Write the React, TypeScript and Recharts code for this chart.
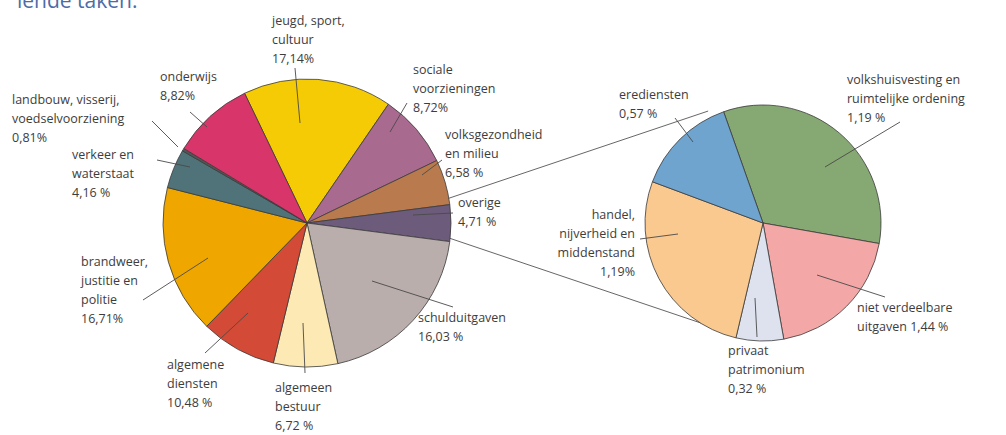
import React from 'react';
import { PieChart, Pie, Cell, Customized } from 'recharts';

// main pie, clockwise from the top (jeugd first)
const mainNames = [
  'jeugd, sport, cultuur',
  'sociale voorzieningen',
  'volksgezondheid en milieu',
  'overige',
  'schulduitgaven',
  'algemeen bestuur',
  'algemene diensten',
  'brandweer, justitie en politie',
  'verkeer en waterstaat',
  'landbouw, visserij, voedselvoorziening',
  'onderwijs',
];
// slice sizes as drawn (share of the circle, %)
const mainShare = [16.7, 8.3, 5.1, 4.1, 19.5, 7.2, 8.5, 16.7, 4.4, 0.3, 9.2];
// printed labels
const mainLabels = [
  ['jeugd, sport,', 'cultuur', '17,14%'],
  ['sociale', 'voorzieningen', '8,72%'],
  ['volksgezondheid', 'en milieu', '6,58 %'],
  ['overige', '4,71 %'],
  ['schulduitgaven', '16,03 %'],
  ['algemeen', 'bestuur', '6,72 %'],
  ['algemene', 'diensten', '10,48 %'],
  ['brandweer,', 'justitie en', 'politie', '16,71%'],
  ['verkeer en', 'waterstaat', '4,16 %'],
  ['landbouw, visserij,', 'voedselvoorziening', '0,81%'],
  ['onderwijs', '8,82%'],
];
const mainColors = ['#f5cb05', '#a96a8f', '#b97b4d', '#6d5b7b', '#b9aeab', '#fce9b4', '#d34b36', '#efa700', '#4f7379', '#555555', '#d8366b'];

// breakdown of "overige"
const subNames = [
  'volkshuisvesting en ruimtelijke ordening',
  'niet verdeelbare uitgaven',
  'privaat patrimonium',
  'handel, nijverheid en middenstand',
  'erediensten',
];
const subShare = [33.2, 19.4, 6.5, 27.0, 13.9];
const subLabels = [
  ['volkshuisvesting en', 'ruimtelijke ordening', '1,19 %'],
  ['niet verdeelbare', 'uitgaven 1,44 %'],
  ['privaat', 'patrimonium', '0,32 %'],
  ['handel,', 'nijverheid en', 'middenstand', '1,19%'],
  ['erediensten', '0,57 %'],
];
const subColors = ['#86a872', '#f3a7a6', '#dde2ee', '#f9c98f', '#6fa4cf'];

const mainData = mainNames.map((name, i) => ({ name, value: mainShare[i] }));
const subData = subNames.map((name, i) => ({ name, value: subShare[i] }));

const MAIN = { cx: 302, cy: 218, r: 144, start: 115.7 };
const SUB = { cx: 758, cy: 218, r: 118, start: 109.5 };

// label placement, offsets from the pie centre: text origin, leader line from -> to
type Layout = { tx: number; ty: number; anchor?: 'start' | 'end'; from: [number, number]; to: [number, number] };
const mainLayout: Layout[] = [
  { tx: -30, ty: -193, from: [-7, -150], to: [-2, -95] },
  { tx: 111, ty: -144, from: [105, -115], to: [88, -86] },
  { tx: 143, ty: -79, from: [140, -58], to: [120, -43] },
  { tx: 156, ty: -11, from: [151, -5], to: [111, -3] },
  { tx: 116, ty: 104, from: [151, 89], to: [70, 63] },
  { tx: -27, ty: 174, from: [3, 155], to: [1, 105] },
  { tx: -135, ty: 151, from: [-97, 135], to: [-54, 95] },
  { tx: -221, ty: 48, from: [-159, 82], to: [-94, 40] },
  { tx: -230, ty: -59, from: [-145, -58], to: [-112, -51] },
  { tx: -290, ty: -114, from: [-150, -97], to: [-124, -71] },
  { tx: -142, ty: -137, from: [-112, -106], to: [-95, -91] },
];
const subLayout: Layout[] = [
  { tx: 89, ty: -134, from: [142, -96], to: [67, -51] },
  { tx: 99, ty: 94, from: [127, 79], to: [59, 57] },
  { tx: -30, ty: 137, from: [-1, 119], to: [-3, 80] },
  { tx: -123, ty: 1, anchor: 'end', from: [-118, 21], to: [-80, 16] },
  { tx: -139, ty: -119, from: [-83, -100], to: [-65, -76] },
];

const FONT = '"Open Sans", "Noto Sans", sans-serif';
const LINE_H = 19;

function makeLabel(center: { cx: number; cy: number }, layout: Layout[], texts: string[][]) {
  return (props: any) => {
    const i = props.index;
    const l = layout[i];
    if (!l) return null;
    const { cx, cy } = center;
    return (
      <g key={`lbl-${i}`}>
        <line
          x1={cx + l.from[0]}
          y1={cy + l.from[1]}
          x2={cx + l.to[0]}
          y2={cy + l.to[1]}
          stroke="#4a4a4a"
          strokeWidth={0.9}
        />
        <text
          x={cx + l.tx}
          y={cy + l.ty}
          textAnchor={l.anchor || 'start'}
          fontFamily={FONT}
          fontSize={12.5}
          fill="#3d3d3d"
        >
          {texts[i].map((t, k) => (
            <tspan key={k} x={cx + l.tx} dy={k === 0 ? 0 : LINE_H}>
              {t}
            </tspan>
          ))}
        </text>
      </g>
    );
  };
}

const toXY = (c: { cx: number; cy: number }, r: number, deg: number) => ({
  x: c.cx + r * Math.cos((deg * Math.PI) / 180),
  y: c.cy - r * Math.sin((deg * Math.PI) / 180),
});

// lines joining the "overige" slice to the breakdown pie
function Connectors() {
  const idx = mainNames.indexOf('overige');
  const before = mainShare.slice(0, idx).reduce((a, b) => a + b, 0);
  const a1 = MAIN.start - before * 3.6;
  const a2 = a1 - mainShare[idx] * 3.6;
  const p1 = toXY(MAIN, MAIN.r, a1);
  const p2 = toXY(MAIN, MAIN.r, a2);
  const q1 = toXY(SUB, SUB.r, 115);
  const q2 = toXY(SUB, SUB.r, -105);
  return (
    <g>
      <text x={17} y={8} fontFamily={FONT} fontSize={21} fill="#4d6ca6">
        lende taken:
      </text>
      <line x1={p1.x} y1={p1.y} x2={q1.x} y2={q1.y} stroke="#555" strokeWidth={0.9} />
      <line x1={p2.x} y1={p2.y} x2={q2.x} y2={q2.y} stroke="#555" strokeWidth={0.9} />
    </g>
  );
}

export default function App() {
  return (
    <div style={{ position: 'absolute', left: 0, top: 0, background: '#fff' }}>
      <PieChart width={1006} height={435}>
        <Pie
          data={mainData}
          dataKey="value"
          nameKey="name"
          cx={MAIN.cx}
          cy={MAIN.cy}
          outerRadius={MAIN.r}
          startAngle={MAIN.start}
          endAngle={MAIN.start - 360}
          stroke="#3a3a3a"
          strokeWidth={0.8}
          label={makeLabel(MAIN, mainLayout, mainLabels)}
          labelLine={false}
          isAnimationActive={false}
        >
          {mainData.map((d, i) => (
            <Cell key={d.name} fill={mainColors[i]} />
          ))}
        </Pie>
        <Pie
          data={subData}
          dataKey="value"
          nameKey="name"
          cx={SUB.cx}
          cy={SUB.cy}
          outerRadius={SUB.r}
          startAngle={SUB.start}
          endAngle={SUB.start - 360}
          stroke="#3a3a3a"
          strokeWidth={0.8}
          label={makeLabel(SUB, subLayout, subLabels)}
          labelLine={false}
          isAnimationActive={false}
        >
          {subData.map((d, i) => (
            <Cell key={d.name} fill={subColors[i]} />
          ))}
        </Pie>
        <Customized component={<Connectors />} />
      </PieChart>
    </div>
  );
}
